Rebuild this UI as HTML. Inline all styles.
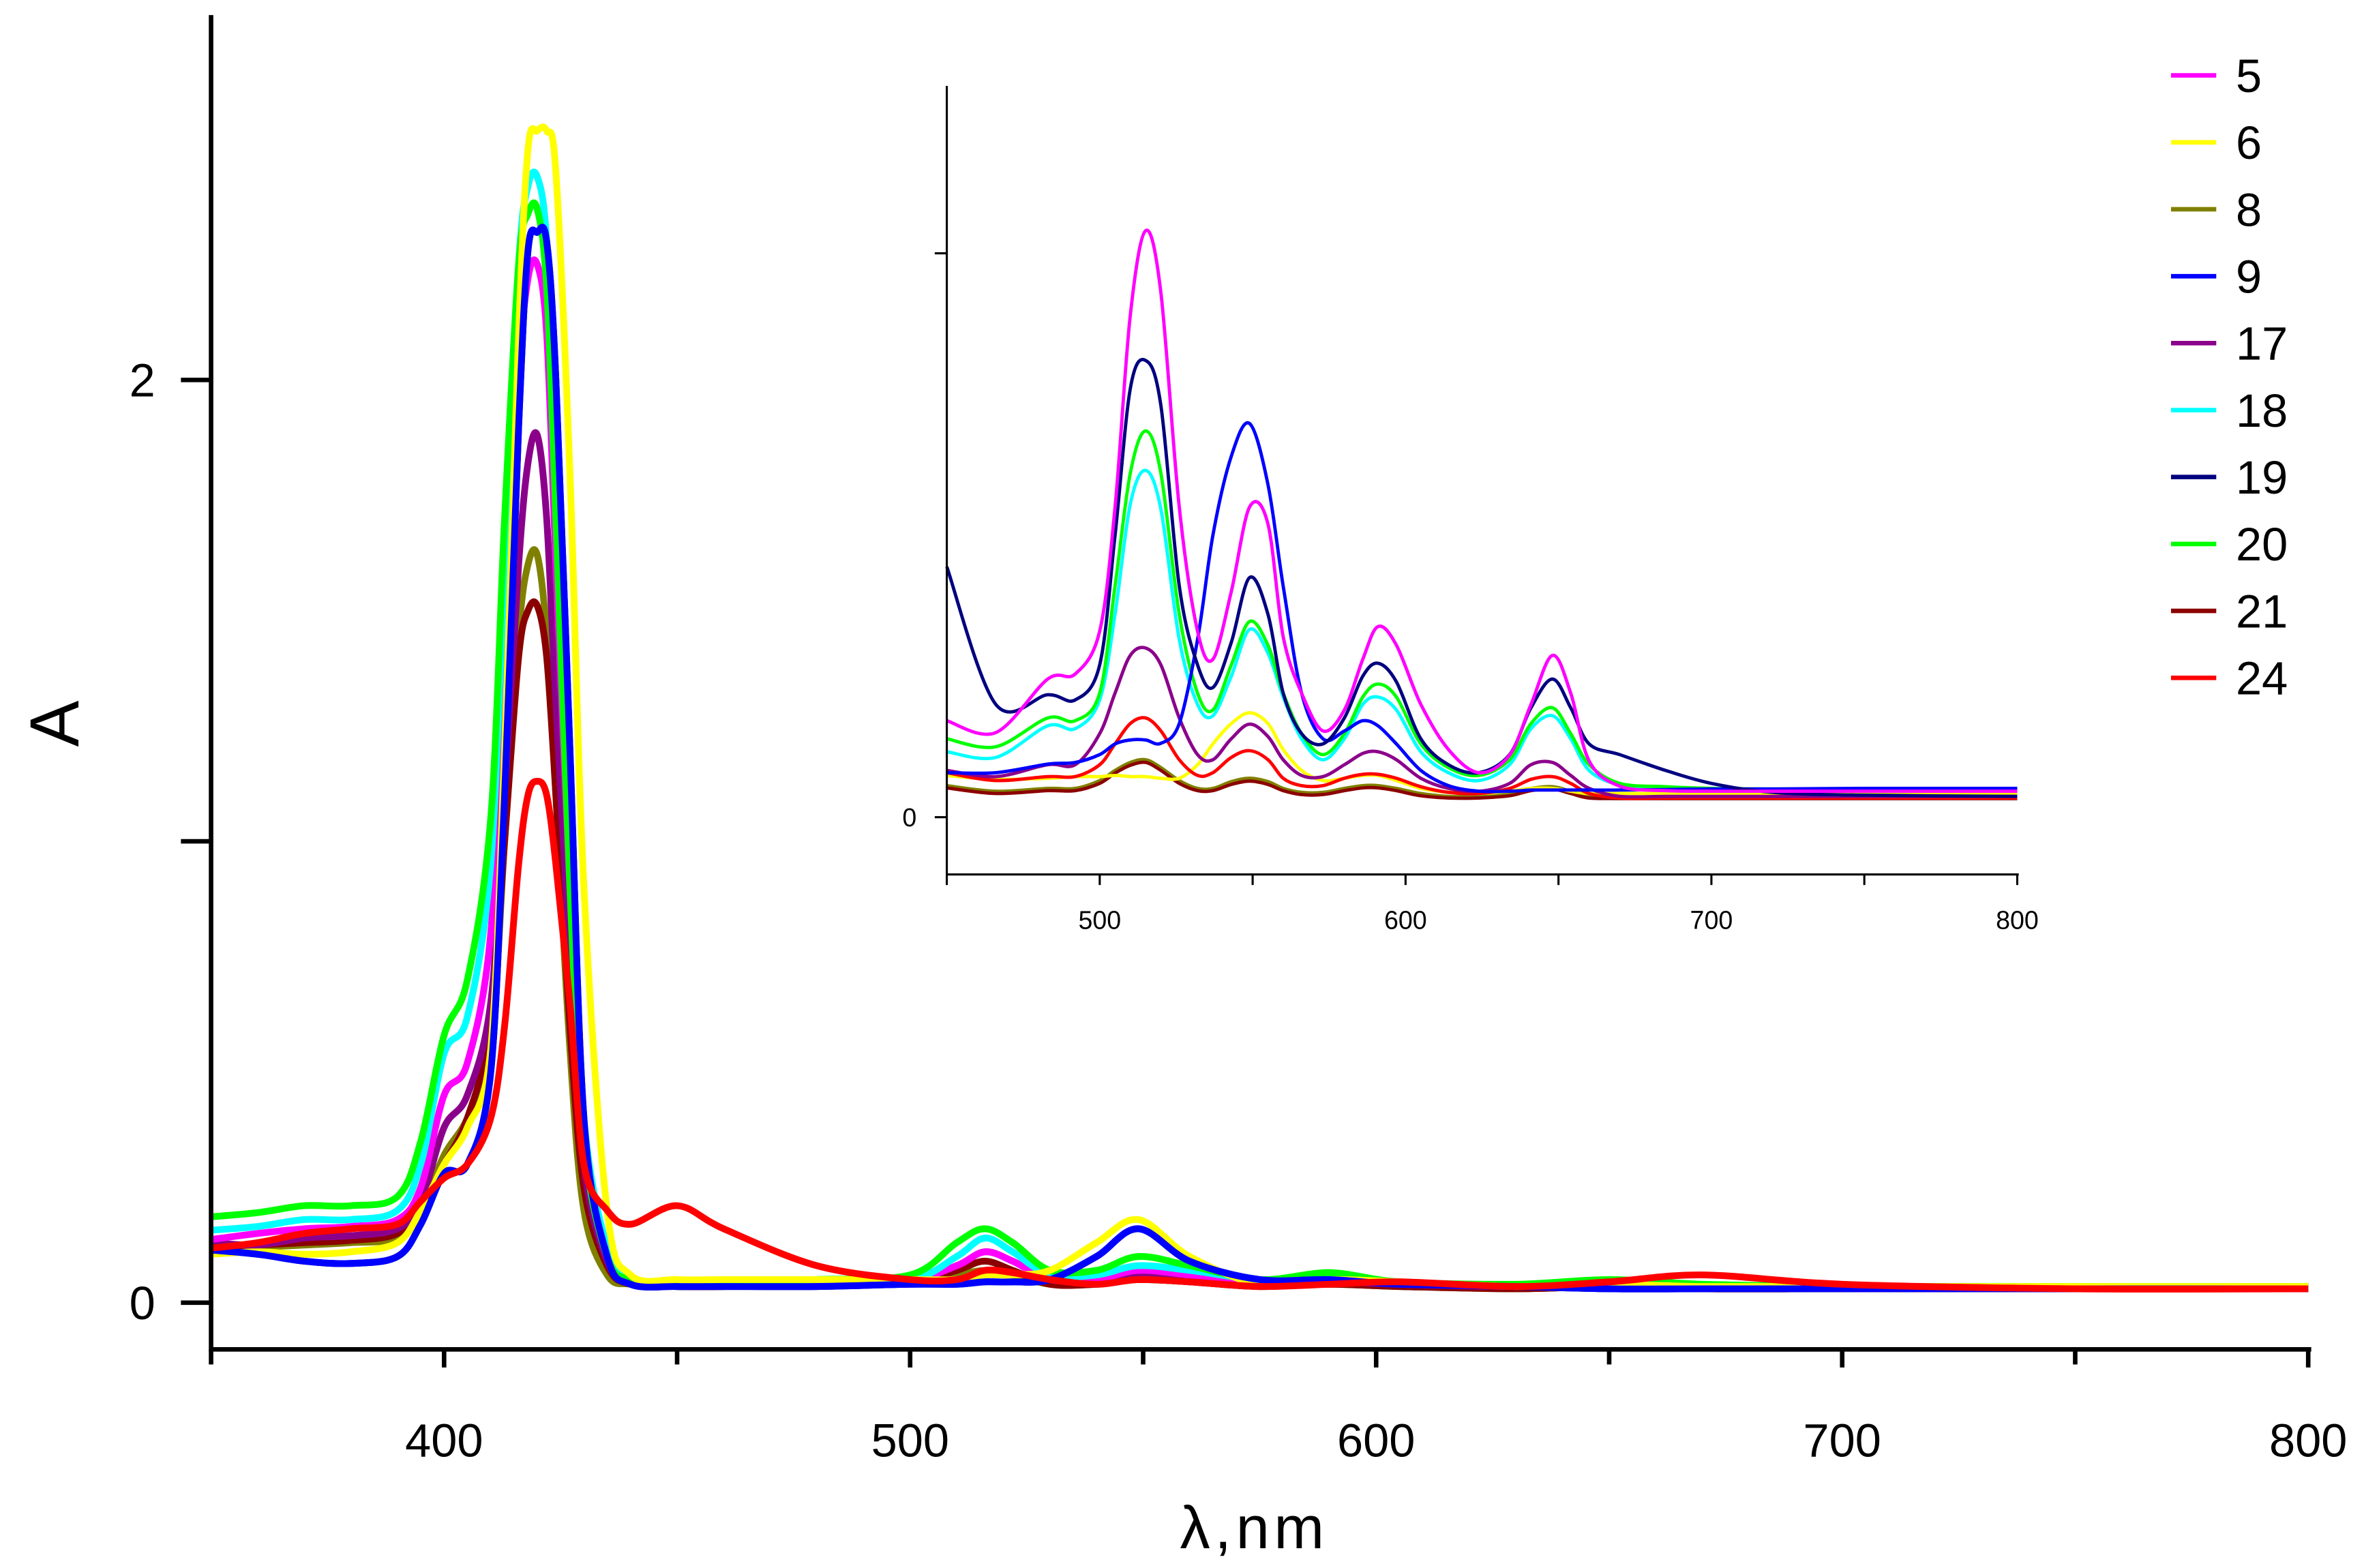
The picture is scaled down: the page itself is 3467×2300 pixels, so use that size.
<!DOCTYPE html>
<html><head><meta charset="utf-8"><style>
html,body{margin:0;padding:0;background:#fff}
svg{display:block}
text{font-family:"Liberation Sans",Arial,sans-serif;fill:#000}
</style></head><body>
<svg id="chart" width="3467" height="2300" viewBox="0 0 1568 1040" preserveAspectRatio="none" xmlns="http://www.w3.org/2000/svg">
<g id="main"></g>
<g id="inset"></g>
<g id="legend"></g>
</svg>
<script>
const seriesNames=["5","6","8","9","17","18","19","20","21","24"];
const seriesColors={"5":"#ff00ff","6":"#ffff00","8":"#808000","9":"#0000ff","17":"#8b008b","18":"#00ffff","19":"#000080","20":"#00ff00","21":"#8b0000","24":"#ff0000"};
const mainWl=[350,360,370,380,390,395,400,405,410,413,416,418,420,422,424,427,430,435,440,450,460,480,500,510,516,522,530,540,549,560,575,590,605,630,650,670,700,750,800];
const main5=[.137,.15,.16,.165,.18,.25,.45,.52,.8,1.4,2.0,2.22,2.25,2.1,1.6,.9,.35,.1,.045,.04,.04,.045,.05,.08,.11,.09,.05,.05,.07,.06,.045,.05,.04,.035,.035,.035,.035,.035,.035];
const main6=[.105,.11,.105,.11,.13,.2,.3,.38,.55,1.2,2.1,2.5,2.54,2.54,2.45,1.8,.9,.2,.06,.05,.05,.05,.05,.05,.06,.06,.07,.13,.18,.1,.04,.05,.045,.035,.04,.035,.035,.035,.035];
const main8=[.115,.12,.125,.13,.14,.2,.32,.4,.55,1.0,1.45,1.6,1.62,1.45,1.1,.55,.2,.06,.04,.035,.035,.04,.045,.06,.07,.06,.04,.04,.05,.045,.035,.04,.035,.03,.035,.03,.03,.03,.03];
const main9=[.114,.105,.09,.085,.1,.17,.28,.3,.5,1.1,1.9,2.28,2.32,2.3,2.0,1.2,.4,.1,.04,.035,.035,.035,.04,.04,.045,.045,.05,.1,.16,.09,.05,.05,.04,.035,.03,.03,.03,.03,.03];
const main17=[.13,.125,.14,.145,.16,.22,.38,.45,.65,1.1,1.6,1.82,1.88,1.7,1.3,.75,.3,.09,.045,.04,.04,.045,.05,.08,.11,.09,.05,.05,.06,.05,.04,.045,.04,.035,.035,.035,.035,.035,.035];
const main18=[.157,.165,.18,.18,.2,.3,.54,.62,.95,1.6,2.25,2.42,2.44,2.3,1.8,1.0,.4,.12,.05,.045,.045,.05,.05,.1,.14,.11,.06,.06,.08,.07,.05,.055,.045,.035,.04,.035,.035,.035,.03];
const main19=[.114,.105,.09,.085,.1,.17,.28,.3,.5,1.1,1.9,2.28,2.32,2.3,2.0,1.2,.4,.1,.04,.035,.035,.035,.04,.04,.045,.045,.05,.1,.16,.09,.05,.05,.04,.035,.03,.03,.03,.03,.03];
const main20=[.186,.195,.21,.21,.23,.35,.58,.70,1.05,1.7,2.25,2.36,2.37,2.2,1.7,.9,.35,.1,.05,.045,.045,.05,.06,.13,.16,.13,.07,.07,.1,.08,.05,.065,.045,.04,.05,.04,.035,.035,.035];
const main21=[.12,.125,.13,.135,.15,.21,.3,.4,.6,1.0,1.4,1.5,1.51,1.4,1.1,.6,.25,.08,.04,.035,.035,.04,.045,.07,.09,.07,.04,.04,.05,.045,.035,.04,.035,.03,.035,.03,.03,.03,.03];
const main24=[.118,.13,.15,.16,.17,.22,.27,.3,.4,.6,.95,1.1,1.13,1.1,.95,.65,.3,.2,.17,.21,.16,.08,.05,.05,.07,.065,.05,.04,.05,.045,.035,.04,.045,.035,.045,.06,.04,.03,.03];
const mainTicksX=[400,500,600,700,800];
const mainTicksY=["0","2"];
const insetWl=[450,466,483,492,500,505,510,515,520,526,532,537,543,549,555,560,566,573,580,586,591,597,605,614,624,634,641,648,654,660,670,685,700,720,750,800];
const in5=[.171,.15,.245,.254,.33,.55,.89,1.04,.93,.55,.33,.28,.4,.55,.52,.32,.22,.153,.19,.28,.338,.305,.2,.12,.079,.11,.2,.287,.22,.1,.055,.047,.046,.046,.046,.046];
const in6=[.074,.067,.069,.072,.072,.074,.072,.072,.069,.069,.093,.13,.166,.185,.166,.12,.083,.065,.069,.074,.074,.065,.051,.044,.042,.046,.051,.051,.046,.042,.042,.042,.042,.042,.042,.042];
const in8=[.056,.046,.051,.051,.065,.083,.097,.102,.088,.065,.051,.051,.063,.069,.063,.051,.044,.044,.051,.056,.056,.051,.042,.037,.037,.042,.051,.054,.046,.037,.035,.035,.035,.035,.035,.035];
const in9=[.079,.079,.094,.097,.111,.13,.137,.137,.131,.166,.315,.5,.64,.698,.59,.41,.22,.139,.153,.171,.162,.13,.083,.056,.046,.046,.048,.048,.048,.048,.048,.049,.05,.05,.051,.051];
const in17=[.083,.072,.093,.093,.148,.22,.287,.3,.27,.176,.111,.102,.139,.165,.143,.102,.074,.072,.093,.113,.116,.102,.069,.051,.046,.06,.093,.097,.074,.051,.037,.037,.037,.037,.037,.037];
const in18=[.116,.106,.162,.157,.208,.36,.555,.615,.546,.315,.2,.18,.25,.333,.291,.213,.139,.102,.139,.2,.213,.19,.116,.079,.065,.093,.157,.18,.139,.083,.057,.048,.046,.046,.046,.046];
const in19=[.444,.2,.217,.208,.27,.5,.76,.81,.73,.41,.27,.23,.31,.425,.36,.22,.148,.13,.176,.25,.273,.24,.139,.093,.079,.111,.194,.245,.194,.13,.111,.083,.06,.044,.039,.037];
const in20=[.139,.125,.176,.171,.22,.41,.61,.685,.61,.36,.22,.19,.27,.347,.305,.22,.148,.111,.148,.213,.236,.213,.13,.088,.074,.102,.166,.194,.148,.093,.06,.054,.051,.05,.05,.05];
const in21=[.052,.042,.047,.047,.06,.078,.092,.097,.083,.06,.047,.047,.058,.064,.058,.047,.04,.04,.047,.052,.052,.047,.038,.034,.034,.038,.047,.05,.042,.034,.033,.033,.033,.033,.033,.033];
const in24=[.079,.065,.072,.072,.093,.13,.166,.176,.153,.102,.074,.079,.106,.118,.102,.069,.056,.056,.069,.076,.076,.069,.054,.044,.042,.051,.067,.072,.06,.042,.034,.034,.034,.034,.034,.034];
const insetTicksX=[500,600,700,800];

const NS="http://www.w3.org/2000/svg";
function mk(tag,attrs,parent){const e=document.createElementNS(NS,tag);for(const k in attrs)e.setAttribute(k,attrs[k]);parent.appendChild(e);return e;}
function smooth(pts){
  let d='M'+pts[0][0].toFixed(1)+','+pts[0][1].toFixed(1);
  for(let i=0;i<pts.length-1;i++){
    const p0=pts[Math.max(0,i-1)],p1=pts[i],p2=pts[i+1],p3=pts[Math.min(pts.length-1,i+2)];
    const c1x=p1[0]+(p2[0]-p0[0])/6,c1y=p1[1]+(p2[1]-p0[1])/6;
    const c2x=p2[0]-(p3[0]-p1[0])/6,c2y=p2[1]-(p3[1]-p1[1])/6;
    d+='C'+c1x.toFixed(1)+','+c1y.toFixed(1)+' '+c2x.toFixed(1)+','+c2y.toFixed(1)+' '+p2[0].toFixed(1)+','+p2[1].toFixed(1);
  }
  return d;
}
const mx=v=>140+(v-350)*(1391/450);
const my=v=>864-v*306;
const gM=document.getElementById('main');
const mainData={"5":main5,"6":main6,"8":main8,"9":main9,"17":main17,"18":main18,"19":main19,"20":main20,"21":main21,"24":main24};
const mainOrder=["19","8","21","17","5","18","20","6","9","24"];
mainOrder.forEach(s=>{
  const pts=mainWl.map((w,i)=>[mx(w),my(mainData[s][i])]);
  const p=mk('path',{d:smooth(pts),fill:'none',stroke:seriesColors[s],'stroke-width':4.5,'stroke-linejoin':'round'},gM);
  
  
});
let ax=mk('path',{d:'M140,10 L140,895 L1533,895',fill:'none',stroke:'#000','stroke-width':3},gM);


for(let v=350;v<=800;v+=50){
  const major=v%100===0;
  const t=mk('line',{x1:mx(v),x2:mx(v),y1:895,y2:major?907:905,stroke:'#000','stroke-width':3},gM);
  
  
}
mainTicksX.forEach(v=>{
  const t=mk('text',{x:mx(v),y:966,'font-size':31,'text-anchor':'middle'},gM);t.textContent=v;
  
  
});
[0,1,2].forEach(v=>{
  const t=mk('line',{x1:120,x2:140,y1:my(v),y2:my(v),stroke:'#000','stroke-width':3},gM);
  
  
});
mainTicksY.forEach(l=>{
  const t=mk('text',{x:103,y:my(+l)+11,'font-size':31,'text-anchor':'end'},gM);t.textContent=l;
  
  
});
let yt=mk('text',{x:0,y:0,'font-size':46,'text-anchor':'middle',transform:'translate(52,480) rotate(-90)'},gM);yt.textContent='A';


let xt=mk('text',{x:832,y:1027,'font-size':40,'text-anchor':'middle','letter-spacing':3},gM);xt.textContent='λ,nm';



const ix=v=>628+(v-450)*(710/350);
const iy=v=>542-v*374;
const gI=document.getElementById('inset');
const inData={"5":in5,"6":in6,"8":in8,"9":in9,"17":in17,"18":in18,"19":in19,"20":in20,"21":in21,"24":in24};
const inOrder=["8","21","6","24","17","18","20","9","19","5"];
inOrder.forEach(s=>{
  const pts=insetWl.map((w,i)=>[ix(w),iy(inData[s][i])]);
  const p=mk('path',{d:smooth(pts),fill:'none',stroke:seriesColors[s],'stroke-width':2.2,'stroke-linejoin':'round'},gI);
  
  
});
let iax=mk('path',{d:'M628,57 L628,580 L1339,580',fill:'none',stroke:'#000','stroke-width':1.4},gI);


for(let v=450;v<=800;v+=50){
  const t=mk('line',{x1:ix(v),x2:ix(v),y1:580,y2:587,stroke:'#000','stroke-width':1.4},gI);
  
  
}
insetTicksX.forEach(v=>{
  const t=mk('text',{x:ix(v),y:616,'font-size':17,'text-anchor':'middle'},gI);t.textContent=v;
  
  
});
[0,1].forEach(v=>{
  const t=mk('line',{x1:620,x2:628,y1:iy(v),y2:iy(v),stroke:'#000','stroke-width':1.4},gI);
  
  
});
let i0=mk('text',{x:608,y:548,'font-size':17,'text-anchor':'end'},gI);i0.textContent='0';



const gL=document.getElementById('legend');
seriesNames.forEach((s,i)=>{
  const y=50+i*44.4;
  const l=mk('line',{x1:1440,x2:1470,y1:y,y2:y,stroke:seriesColors[s],'stroke-width':3},gL);
  
  
  const t=mk('text',{x:1483,y:y+11,'font-size':31},gL);t.textContent=s;
  
  
});
</script>
</body></html>
